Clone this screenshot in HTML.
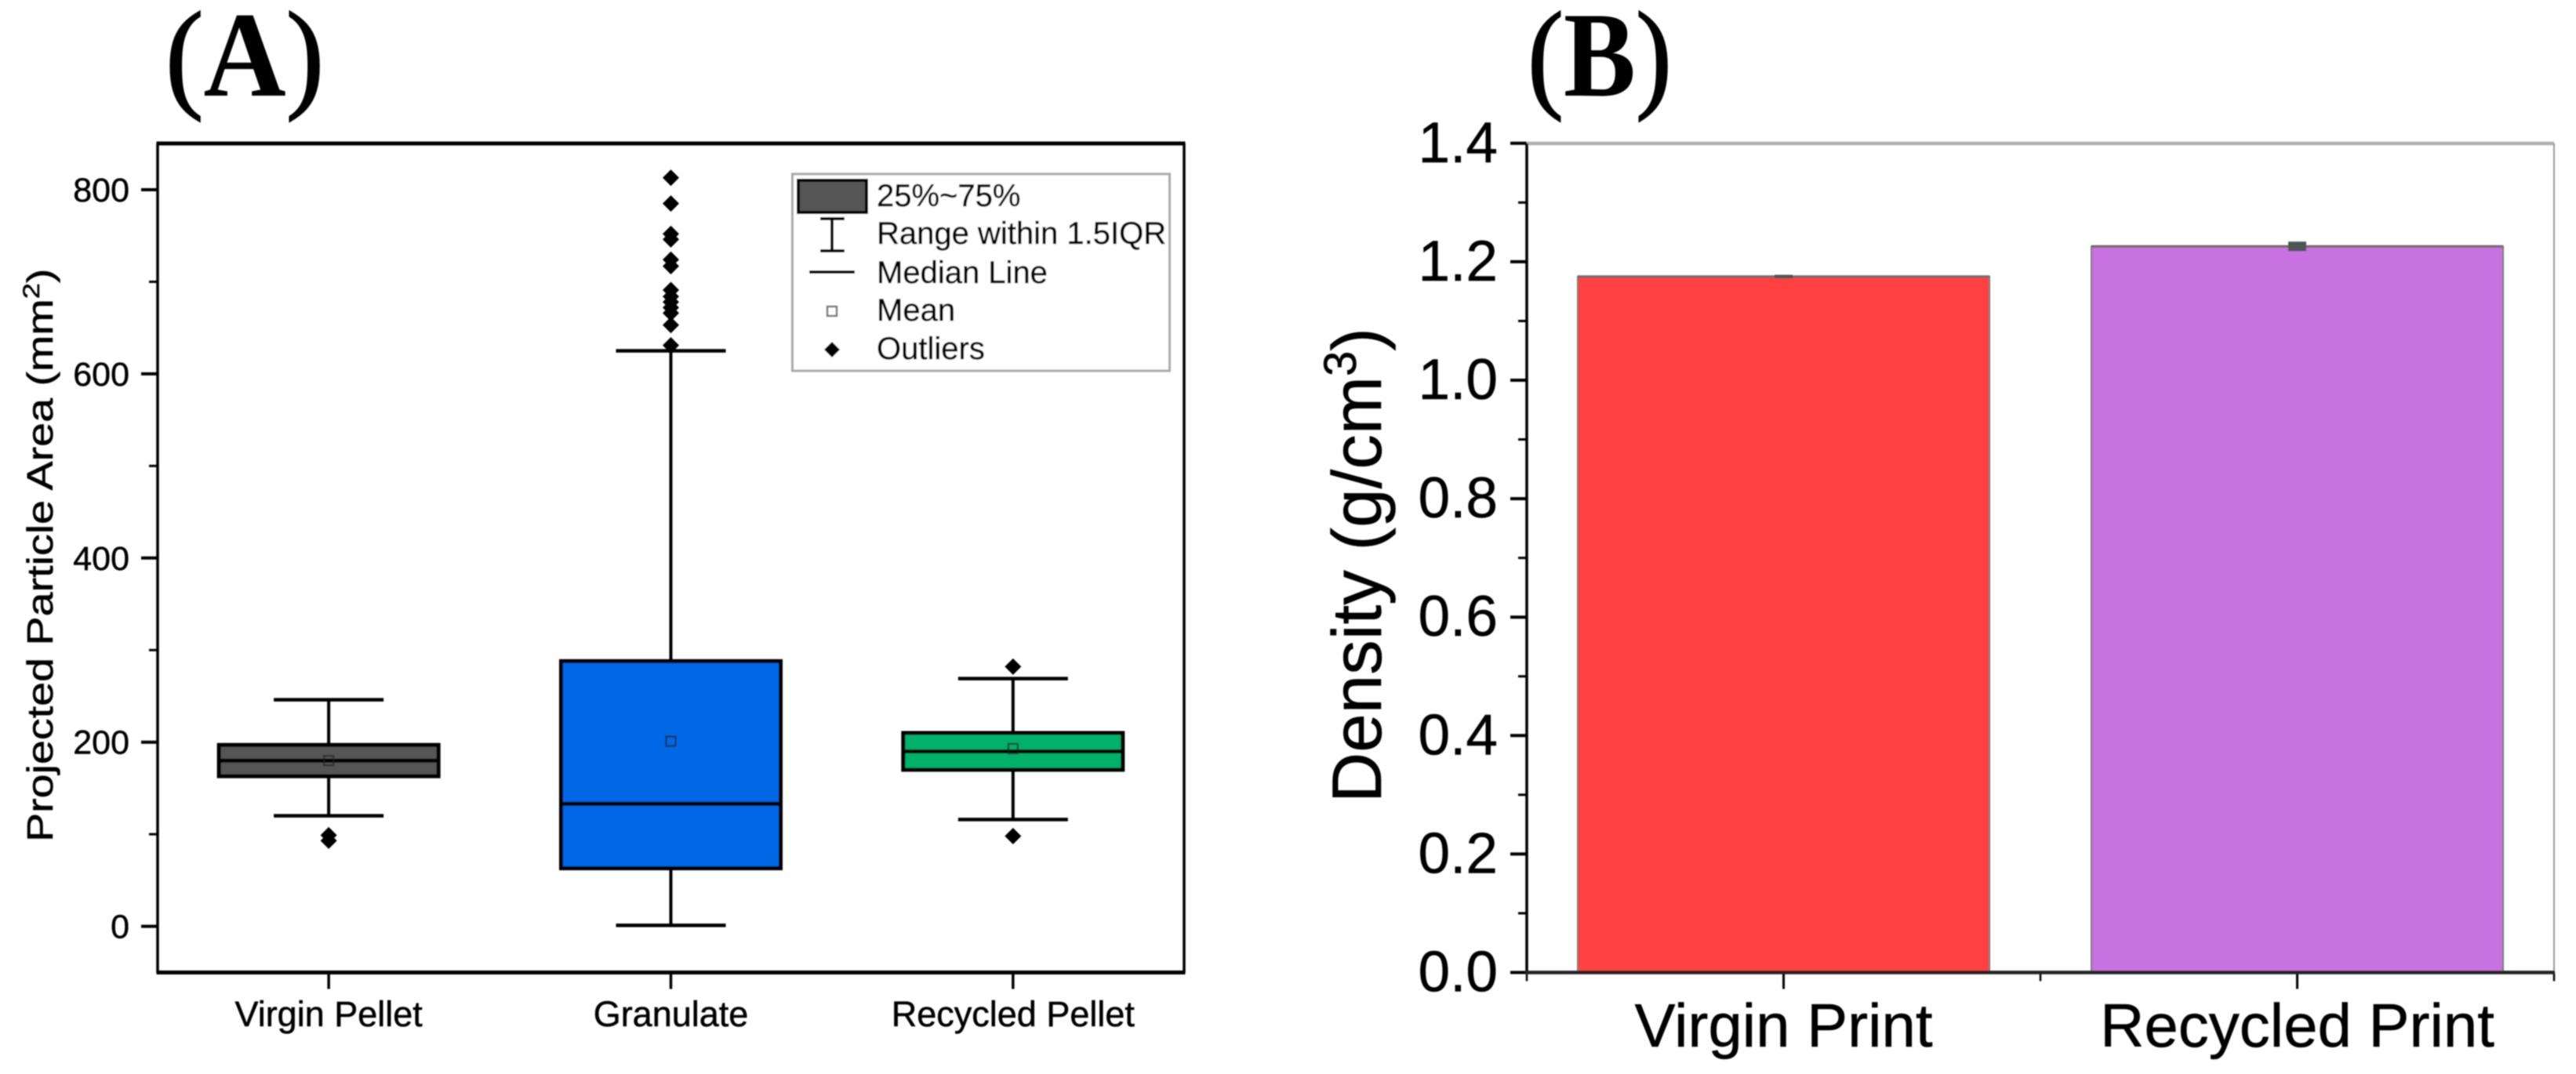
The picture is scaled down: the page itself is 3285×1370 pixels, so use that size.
<!DOCTYPE html>
<html lang="en">
<head>
<meta charset="utf-8">
<title>Particle area and density charts</title>
<style>
html,body{margin:0;padding:0;background:#fff;}
svg{display:block;}
text{font-family:"Liberation Sans",sans-serif;fill:#000;stroke:#000;stroke-width:0.5px;}
.serif{font-family:"Liberation Serif",serif;font-weight:bold;stroke-width:0;}
.paren{font-weight:normal;stroke-width:2px;}
</style>
</head>
<body>
<svg id="figure" xmlns="http://www.w3.org/2000/svg" width="3285" height="1370" viewBox="0 0 3285 1370">
  <defs>
    <filter id="soft" x="-2%" y="-2%" width="104%" height="104%"><feGaussianBlur stdDeviation="0.7"/></filter>
  </defs>
  <rect x="0" y="0" width="3285" height="1370" fill="#fff"/>
  <g filter="url(#soft)">
    <text class="serif" font-size="155" transform="translate(211,122) scale(0.94,1)"><tspan class="paren">(</tspan>A<tspan class="paren">)</tspan></text>
    <text class="serif" font-size="155" transform="translate(1948,122) scale(0.89,1)"><tspan class="paren">(</tspan>B<tspan class="paren">)</tspan></text>

    <g id="panelA"></g>

    <text font-size="46" transform="translate(67,1074) rotate(-90) scale(1.21,1)">Projected Particle Area (mm<tspan font-size="30" dy="-17">2</tspan><tspan dy="17">)</tspan></text>

    <g>
      <rect x="1010.5" y="222" width="481" height="251" fill="#fff" stroke="#a8a8a8" stroke-width="3"/>
      <rect x="1018" y="230" width="87" height="41" fill="#555" stroke="#000" stroke-width="4"/>
      <g stroke="#000" stroke-width="4">
        <line x1="1046" x2="1077" y1="279" y2="279"/>
        <line x1="1061" x2="1061" y1="279" y2="320"/>
        <line x1="1046" x2="1077" y1="320" y2="320"/>
      </g>
      <line x1="1032" x2="1090" y1="347" y2="347" stroke="#000" stroke-width="4"/>
      <rect x="1055" y="391" width="12" height="12" fill="#fff" stroke="#777" stroke-width="2.5"/>
      <polygon points="1061,436 1071,446 1061,456 1051,446" fill="#000"/>
      <text x="1118" y="263" font-size="40">25%~75%</text>
      <text x="1118" y="311" font-size="40">Range within 1.5IQR</text>
      <text x="1118" y="361" font-size="40">Median Line</text>
      <text x="1118" y="409" font-size="40">Mean</text>
      <text x="1118" y="458" font-size="40">Outliers</text>
    </g>

    <g id="panelB"></g>

    <text font-size="89" transform="translate(1761,1024) rotate(-90)">Density (g/cm<tspan font-size="58" dy="-32">3</tspan><tspan dy="32">)</tspan></text>
  </g>
</svg>
<script>
// Panel A data
var boxCategories = ["Virgin Pellet", "Granulate", "Recycled Pellet"];
var whiskerLow = [120, 1, 116];
var quartile1 = [163, 63, 170];
var medians = [180, 133, 190];
var quartile3 = [197, 288, 210];
var whiskerHigh = [246, 625, 269];
var means = [180, 201, 193];
var outliersVirgin = [99, 93];
var outliersGranulate = [813, 785, 752, 746, 724, 717, 691, 684, 678, 672, 666, 653, 631];
var outliersRecycled = [282, 98];
var boxColors = ["#555555", "#0068e6", "#00b16a"];
var boxYTicks = [0, 200, 400, 600, 800];
var boxYMinorTicks = [100, 300, 500, 700];

// Panel B data
var barCategories = ["Virgin Print", "Recycled Print"];
var barValues = [1.175, 1.226];
var barErrors = [0.003, 0.008];
var barColors = ["#ff4040", "#c871e1"];
var barYTicks = ["0.0", "0.2", "0.4", "0.6", "0.8", "1.0", "1.2", "1.4"];
var barYMinorTicks = [0.1, 0.3, 0.5, 0.7, 0.9, 1.1, 1.3];

var NS = "http://www.w3.org/2000/svg";
function make(parent, tag, props, txt) {
  var el = document.createElementNS(NS, tag);
  for (var k in props) { el.setAttribute(k, props[k]); }
  if (txt !== undefined) { el.textContent = txt; }
  parent.appendChild(el);
  return el;
}

// Axis functions, panel A
var A = { left: 201, right: 1510, top: 183, bottom: 1240.5 };
function ay(v) { return 1181.6 - 1.1745 * v; }
function ax(i) { return A.left + (A.right - A.left) * (i + 0.5) / boxCategories.length; }

// Axis functions, panel B
var B = { left: 1947, right: 3257, top: 183, bottom: 1240.5 };
function by(v) { return 1240.5 - 755.5 * v; }
function bx(p) { return B.left + (B.right - B.left) * (p + 0.5) / barCategories.length; }

var panelA = document.getElementById("panelA");
var panelB = document.getElementById("panelB");
var el;

// Panel A frame and ticks
el = make(panelA, "rect", { x: A.left, y: A.top, width: A.right - A.left, height: A.bottom - A.top, fill: "none", stroke: "none" });



boxYTicks.forEach(function (t) {
  var e = make(panelA, "line", { x1: A.left - 21, x2: A.left, y1: ay(t), y2: ay(t), stroke: "#000", "stroke-width": 4 });
  
  
  var l = make(panelA, "text", { x: 165, y: ay(t) + 15, "font-size": 43, "text-anchor": "end" }, String(t));
  
  
});
boxYMinorTicks.forEach(function (t) {
  var e = make(panelA, "line", { x1: A.left - 11, x2: A.left, y1: ay(t), y2: ay(t), stroke: "#000", "stroke-width": 3 });
  
  
});

// Panel A boxes
function drawOutliers(i, values) {
  values.forEach(function (v) {
    var x = ax(i), y = ay(v), r = 10.5;
    var d = make(panelA, "polygon", { points: x + "," + (y - r) + " " + (x + r) + "," + y + " " + x + "," + (y + r) + " " + (x - r) + "," + y, fill: "#000" });
    
    
  });
}
var outlierSets = [outliersVirgin, outliersGranulate, outliersRecycled];
boxCategories.forEach(function (cat, i) {
  var x = ax(i), boxHalf = 140, capHalf = 70;
  var whisker = make(panelA, "line", { x1: x, x2: x, y1: ay(whiskerHigh[i]), y2: ay(whiskerLow[i]), stroke: "#000", "stroke-width": 4 });
  
  
  var capHi = make(panelA, "line", { x1: x - capHalf, x2: x + capHalf, y1: ay(whiskerHigh[i]), y2: ay(whiskerHigh[i]), stroke: "#000", "stroke-width": 4.5 });
  
  
  var capLo = make(panelA, "line", { x1: x - capHalf, x2: x + capHalf, y1: ay(whiskerLow[i]), y2: ay(whiskerLow[i]), stroke: "#000", "stroke-width": 4.5 });
  
  
  var box = make(panelA, "rect", { x: x - boxHalf, y: ay(quartile3[i]), width: boxHalf * 2, height: ay(quartile1[i]) - ay(quartile3[i]), fill: boxColors[i], stroke: "#000", "stroke-width": 5 });
  
  
  var med = make(panelA, "line", { x1: x - boxHalf, x2: x + boxHalf, y1: ay(medians[i]), y2: ay(medians[i]), stroke: "#000", "stroke-width": 5 });
  
  
  var mean = make(panelA, "rect", { x: x - 6, y: ay(means[i]) - 6, width: 12, height: 12, fill: "none", stroke: "#222", "stroke-opacity": 0.65, "stroke-width": 2.5 });
  
  
  drawOutliers(i, outlierSets[i]);
  var tick = make(panelA, "line", { x1: x, x2: x, y1: A.bottom, y2: A.bottom + 21, stroke: "#000", "stroke-width": 3.5 });
  
  
  var lab = make(panelA, "text", { x: x, y: 1309, "font-size": 45, "text-anchor": "middle" }, cat);
  
  
});

// Panel A frame lines on top
el = make(panelA, "line", { x1: A.left - 1.5, x2: A.right + 1.5, y1: A.top, y2: A.top, stroke: "#000", "stroke-width": 5 });


el = make(panelA, "line", { x1: A.left - 1.5, x2: A.right + 1.5, y1: A.bottom, y2: A.bottom, stroke: "#000", "stroke-width": 5 });


el = make(panelA, "line", { x1: A.left, x2: A.left, y1: A.top, y2: A.bottom, stroke: "#000", "stroke-width": 3.5 });


el = make(panelA, "line", { x1: A.right, x2: A.right, y1: A.top, y2: A.bottom, stroke: "#000", "stroke-width": 3.5 });



// Panel B frame behind bars
el = make(panelB, "line", { x1: B.left, x2: B.right, y1: B.top, y2: B.top, stroke: "#b0b0b0", "stroke-width": 4.5 });


el = make(panelB, "line", { x1: B.right, x2: B.right, y1: B.top, y2: B.bottom, stroke: "#999", "stroke-width": 2 });



// Panel B bars
barCategories.forEach(function (cat, i) {
  var x = bx(i), halfW = 262.5;
  var bar = make(panelB, "rect", { x: x - halfW, y: by(barValues[i]), width: halfW * 2, height: by(0) - by(barValues[i]), fill: barColors[i], stroke: "#777", "stroke-width": 2 });
  
  
  var edge = make(panelB, "line", { x1: x - halfW, x2: x + halfW, y1: by(barValues[i]), y2: by(barValues[i]), stroke: "#6a6a6a", "stroke-width": 3 });
  
  
  var err = make(panelB, "rect", { x: x - 11.5, y: by(barValues[i] + barErrors[i]), width: 23, height: by(barValues[i] - barErrors[i]) - by(barValues[i] + barErrors[i]), fill: "#4d5555" });
  
  
  var tick = make(panelB, "line", { x1: x, x2: x, y1: B.bottom, y2: B.bottom + 21, stroke: "#000", "stroke-width": 3 });
  
  
  var lab = make(panelB, "text", { x: x, y: 1335, "font-size": 78, "text-anchor": "middle" }, cat);
  
  
});

// Panel B x minor ticks at category boundaries
for (var p = -0.5; p <= barCategories.length - 0.5; p += 1) {
  var mt = make(panelB, "line", { x1: bx(p), x2: bx(p), y1: B.bottom, y2: B.bottom + 11, stroke: "#000", "stroke-width": 2.5 });
  
  
}

// Panel B y axis
barYTicks.forEach(function (t) {
  var v = parseFloat(t);
  var e = make(panelB, "line", { x1: B.left - 21, x2: B.left, y1: by(v), y2: by(v), stroke: "#000", "stroke-width": 4 });
  
  
  var l = make(panelB, "text", { x: 1910, y: by(v) + 24, "font-size": 73, "text-anchor": "end" }, t);
  
  
});
barYMinorTicks.forEach(function (t) {
  var e = make(panelB, "line", { x1: B.left - 11, x2: B.left, y1: by(t), y2: by(t), stroke: "#000", "stroke-width": 3 });
  
  
});
el = make(panelB, "line", { x1: B.left, x2: B.left, y1: B.top, y2: B.bottom, stroke: "#000", "stroke-width": 3.5 });


el = make(panelB, "line", { x1: B.left - 2, x2: B.right + 1, y1: B.bottom, y2: B.bottom, stroke: "#222", "stroke-width": 4.5 });


</script>
</body>
</html>
